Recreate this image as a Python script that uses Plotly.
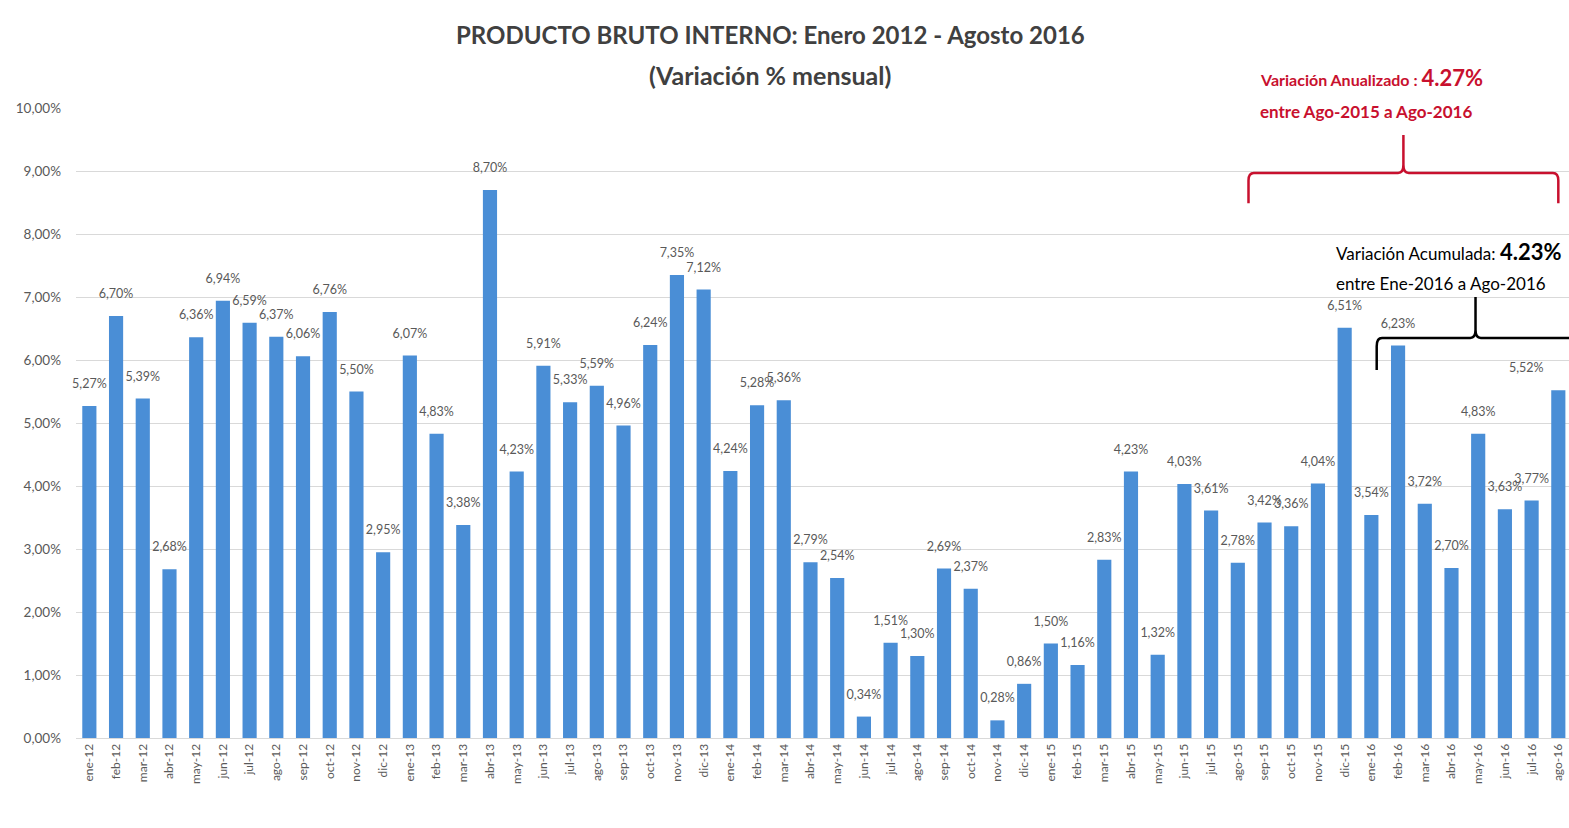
import plotly.graph_objects as go

months = ["ene", "feb", "mar", "abr", "may", "jun", "jul", "ago", "sep", "oct", "nov", "dic"]
categories = [f"{m}-{y}" for y in ["12", "13", "14", "15"] for m in months] + \
             [f"{m}-16" for m in months[:8]]

values_2012 = [5.27, 6.70, 5.39, 2.68, 6.36, 6.94, 6.59, 6.37, 6.06, 6.76, 5.50, 2.95]
values_2013 = [6.07, 4.83, 3.38, 8.70, 4.23, 5.91, 5.33, 5.59, 4.96, 6.24, 7.35, 7.12]
values_2014 = [4.24, 5.28, 5.36, 2.79, 2.54, 0.34, 1.51, 1.30, 2.69, 2.37, 0.28, 0.86]
values_2015 = [1.50, 1.16, 2.83, 4.23, 1.32, 4.03, 3.61, 2.78, 3.42, 3.36, 4.04, 6.51]
values_2016 = [3.54, 6.23, 3.72, 2.70, 4.83, 3.63, 3.77, 5.52]
values = values_2012 + values_2013 + values_2014 + values_2015 + values_2016

y_ticks = list(range(0, 11))
y_ticktext = [f"{v:.2f}%".replace(".", ",") for v in y_ticks]

idx = list(range(len(categories)))
grey = "#595959"
font_family = "Lato, 'Open Sans', sans-serif"

fig = go.Figure()
fig.add_trace(go.Bar(
    x=idx, y=values,
    marker=dict(color="#4a8ed6", line=dict(width=0)),
    width=0.53, hoverinfo="x+y",
))
label_pos = ["top center"] * (len(values) - 1) + ["top left"]
fig.add_trace(go.Scatter(
    x=idx, y=values, mode="markers+text",
    text=[f"{v:.2f}%".replace(".", ",") for v in values],
    textposition=label_pos,
    marker=dict(size=22, opacity=0),
    textfont=dict(size=12.5, color=grey, family=font_family),
    cliponaxis=False, hoverinfo="skip",
))

red = "#c8102e"
# red bracket (annualized)
fig.add_shape(type="path", xref="x", yref="y",
              path="M 43.4 8.49 L 43.4 8.85 Q 43.4 8.97 43.6 8.97 L 49.0 8.97 Q 49.2 8.97 49.2 9.1 L 49.2 9.57 "
                   "M 49.2 9.1 Q 49.2 8.97 49.4 8.97 L 54.8 8.97 Q 55.0 8.97 55.0 8.85 L 55.0 8.49",
              line=dict(color=red, width=2.5))
# black bracket (accumulated)
fig.add_shape(type="path", xref="x", yref="y",
              path="M 48.2 5.84 L 48.2 6.22 Q 48.2 6.35 48.4 6.35 L 51.7 6.35 Q 51.9 6.35 51.9 6.48 L 51.9 7.0 "
                   "M 51.9 6.48 Q 51.9 6.35 52.1 6.35 L 55.5 6.35 Q 55.7 6.35 55.7 6.22 L 55.7 5.84",
              line=dict(color="black", width=2.5))

annotations = [
    dict(x=0.465, y=1.116, xref="paper", yref="paper", showarrow=False, yanchor="middle",
         text="<b>PRODUCTO BRUTO INTERNO: Enero 2012 - Agosto 2016</b>",
         font=dict(size=24, color="#404040", family=font_family)),
    dict(x=0.465, y=1.052, xref="paper", yref="paper", showarrow=False, yanchor="middle",
         text="<b>(Variación % mensual)</b>",
         font=dict(size=25, color="#404040", family=font_family)),
    dict(x=43.75, y=1.048, xref="x", yref="paper", showarrow=False, xanchor="left", yanchor="middle",
         text="<b>Variación Anualizado : <span style='font-size:22px'>4.27%</span></b>",
         font=dict(size=16, color=red, family=font_family)),
    dict(x=43.75, y=0.995, xref="x", yref="paper", showarrow=False, xanchor="left", yanchor="middle",
         text="<b>entre Ago-2015 a Ago-2016</b>",
         font=dict(size=17, color=red, family=font_family)),
    dict(x=46.6, y=7.72, xref="x", yref="y", showarrow=False, xanchor="left", yanchor="middle",
         text="Variación Acumulada: <b><span style='font-size:22px'>4.23%</span></b>",
         font=dict(size=17, color="black", family=font_family)),
    dict(x=46.6, y=7.22, xref="x", yref="y", showarrow=False, xanchor="left", yanchor="middle",
         text="entre Ene-2016 a Ago-2016",
         font=dict(size=17, color="black", family=font_family)),
]

fig.update_layout(
    width=1569, height=828,
    margin=dict(l=76, r=0, t=108, b=90),
    plot_bgcolor="white", paper_bgcolor="white",
    showlegend=False,
    annotations=annotations,
    font=dict(family=font_family, color=grey),
    xaxis=dict(range=[-0.5, 55.4], tickmode="array", tickvals=idx, ticktext=categories,
               tickangle=-90, tickfont=dict(size=12, color=grey), showgrid=False,
               showline=True, linecolor="#d9d9d9", ticks=""),
    yaxis=dict(range=[0, 10], tickmode="array", tickvals=y_ticks, ticktext=y_ticktext,
               tickfont=dict(size=13.5, color=grey), gridcolor="#d9d9d9",
               zeroline=False, ticklabelstandoff=14),
)

fig.write_html("out.html")
